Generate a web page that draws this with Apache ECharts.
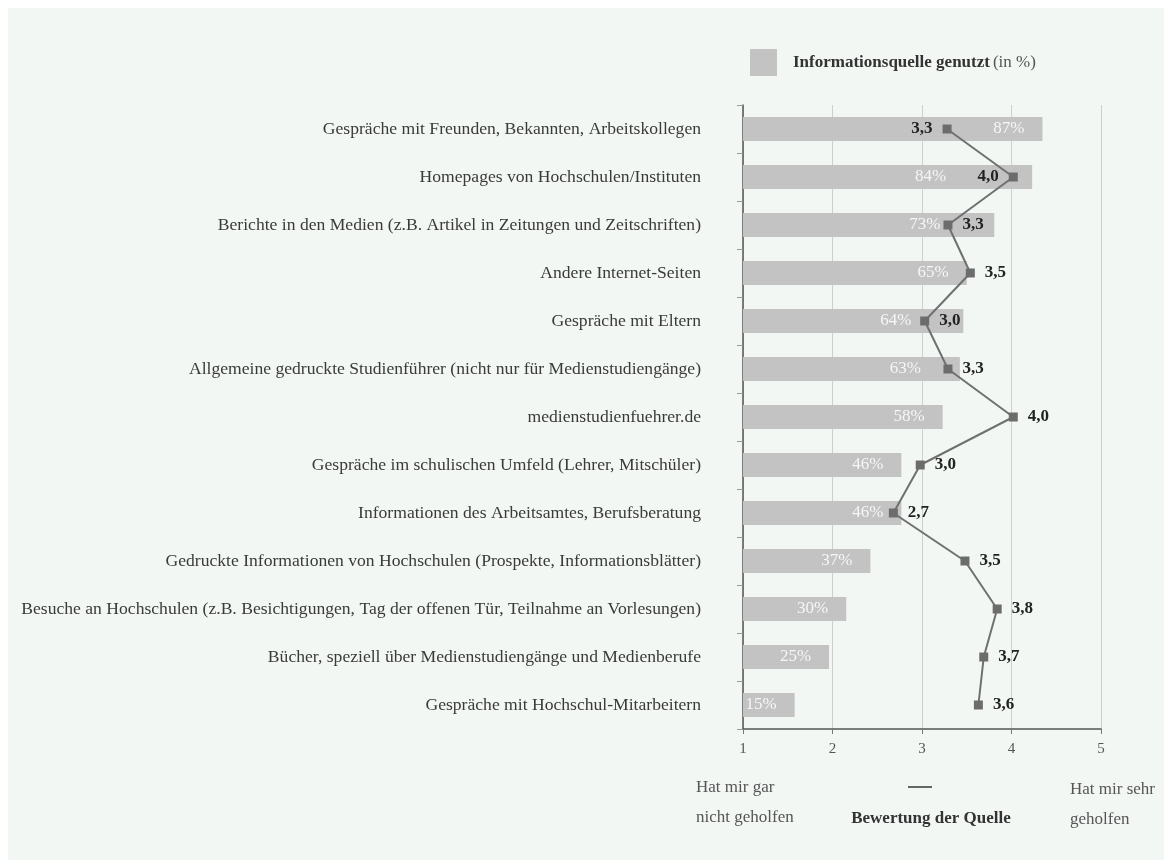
<!DOCTYPE html>
<html>
<head>
<meta charset="utf-8">
<script src="https://cdn.jsdelivr.net/npm/echarts@6/dist/echarts.min.js"></script>
<style>
  html, body { margin: 0; padding: 0; background: #fff; }
  #chart { position: absolute; left: 8px; top: 8px; width: 1156px; height: 852px; }
</style>
</head>
<body>
<div id="chart"></div>
<script>
// Informationsquellen: genutzt (%) und Bewertung (1-5)
var categories = [
  'Gespräche mit Freunden, Bekannten, Arbeitskollegen',
  'Homepages von Hochschulen/Instituten',
  'Berichte in den Medien (z.B. Artikel in Zeitungen und Zeitschriften)',
  'Andere Internet-Seiten',
  'Gespräche mit Eltern',
  'Allgemeine gedruckte Studienführer (nicht nur für Medienstudiengänge)',
  'medienstudienfuehrer.de',
  'Gespräche im schulischen Umfeld (Lehrer, Mitschüler)',
  'Informationen des Arbeitsamtes, Berufsberatung',
  'Gedruckte Informationen von Hochschulen (Prospekte, Informationsblätter)',
  'Besuche an Hochschulen (z.B. Besichtigungen, Tag der offenen Tür, Teilnahme an Vorlesungen)',
  'Bücher, speziell über Medienstudiengänge und Medienberufe',
  'Gespräche mit Hochschul-Mitarbeitern'
]
var usedPct = [87, 84, 73, 65, 64, 63, 58, 46, 46, 37, 30, 25, 15]
var rating = [3.28, 4.02, 3.29, 3.54, 3.03, 3.29, 4.02, 2.98, 2.68, 3.48, 3.84, 3.69, 3.63]
var ratingTicks = [1, 2, 3, 4, 5]

// layout tweaks (not data): pct labels moved left where the line sits
var pctLabelShift = [0, -68, -36, 0, -34, -21, 0, 0, 0, 0, 0, 0, 0]
var ratingLabelSide = ['left', 'left', 'right', 'right', 'right', 'right', 'right',
  'right', 'right', 'right', 'right', 'right', 'right']

var serif = "'Liberation Serif', 'DejaVu Serif', serif"

var myChart = echarts.init(document.getElementById('chart'))
myChart.setOption({
  backgroundColor: '#f3f7f4',
  animation: false,
  textStyle: { fontFamily: serif },
  legend: {
    left: 737,
    top: 36,
    icon: 'rect',
    itemWidth: 27,
    itemHeight: 27,
    data: ['Informationsquelle genutzt'],
    formatter: function (name) {
      return '{b|' + name + '} {n|(in %)}'
    },
    textStyle: {
      padding: [0, 0, 0, 11],
      rich: {
        b: { fontFamily: serif, fontSize: 17, fontWeight: 'bold', color: '#333' },
        n: { fontFamily: serif, fontSize: 17, color: '#555' }
      }
    }
  },
  grid: { left: 735, top: 97, width: 358, height: 624, containLabel: false },
  xAxis: [{
    type: 'value',
    min: ratingTicks[0],
    max: ratingTicks[ratingTicks.length - 1],
    interval: 1,
    position: 'bottom',
    axisLine: { show: true, lineStyle: { color: '#555', width: 1.5 } },
    axisTick: { show: true, length: 5, lineStyle: { color: '#777' } },
    axisLabel: { color: '#555', fontSize: 15, margin: 13, fontFamily: serif },
    splitLine: { show: true, lineStyle: { color: '#cdd1cd', width: 1 } }
  }, {
    type: 'value',
    min: 0,
    max: 104,
    show: false
  }],
  yAxis: {
    type: 'category',
    inverse: true,
    data: categories,
    axisLine: { show: true, lineStyle: { color: '#555', width: 1.5 } },
    axisTick: { show: true, length: 6, lineStyle: { color: '#999' } },
    axisLabel: { color: '#3a3a3a', fontSize: 17.6, margin: 42, fontFamily: serif }
  },
  series: [{
    name: 'Informationsquelle genutzt',
    type: 'bar',
    xAxisIndex: 1,
    barWidth: 24,
    itemStyle: { color: '#c3c3c3' },
    label: {
      show: true,
      position: 'insideRight',
      distance: 18,
      color: '#f6f6f6',
      fontSize: 17,
      fontFamily: serif,
      formatter: '{c}%'
    },
    data: usedPct.map(function (v, i) {
      return { value: v, label: { offset: [pctLabelShift[i], 0] } }
    })
  }, {
    name: 'Bewertung der Quelle',
    type: 'line',
    xAxisIndex: 0,
    symbol: 'rect',
    symbolSize: 9,
    lineStyle: { color: '#707070', width: 2 },
    itemStyle: { color: '#6c6c6c' },
    z: 5,
    label: {
      show: true,
      distance: 10,
      color: '#222',
      fontSize: 17,
      fontWeight: 'bold',
      fontFamily: serif,
      formatter: function (p) {
        return p.value.toFixed(1).replace('.', ',')
      }
    },
    data: rating.map(function (v, i) {
      return { value: v, label: { position: ratingLabelSide[i] } }
    })
  }],
  graphic: [
    { type: 'text', style: { x: 688, y: 780, text: 'Hat mir gar', font: '17px ' + serif, fill: '#555', textVerticalAlign: 'middle' } },
    { type: 'text', style: { x: 688, y: 810, text: 'nicht geholfen', font: '17px ' + serif, fill: '#555', textVerticalAlign: 'middle' } },
    { type: 'text', style: { x: 1062, y: 782, text: 'Hat mir sehr', font: '17px ' + serif, fill: '#555', textVerticalAlign: 'middle' } },
    { type: 'text', style: { x: 1062, y: 812, text: 'geholfen', font: '17px ' + serif, fill: '#555', textVerticalAlign: 'middle' } },
    { type: 'line', shape: { x1: 900, y1: 779, x2: 924, y2: 779 }, style: { stroke: '#666', lineWidth: 2 } },
    { type: 'text', style: { x: 923, y: 811, text: 'Bewertung der Quelle', font: 'bold 17px ' + serif, fill: '#333', textAlign: 'center', textVerticalAlign: 'middle' } }
  ]
})
</script>
</body>
</html>
